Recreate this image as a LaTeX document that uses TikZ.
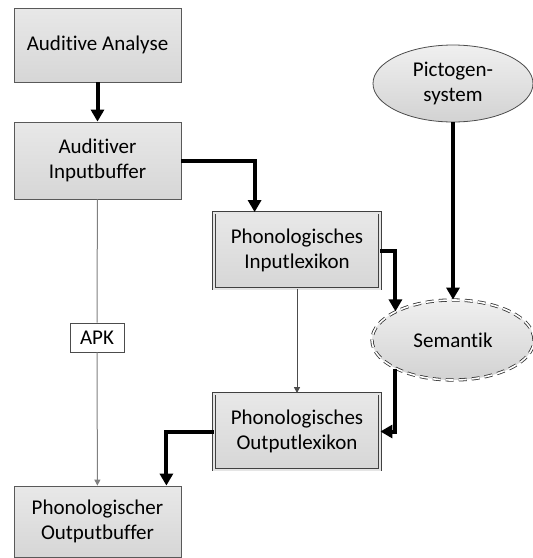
\documentclass[tikz,border=0pt]{standalone}
\usepackage{fontspec}
\setmainfont{Carlito}[Ligatures={NoCommon,NoContextual}]
\usetikzlibrary{shapes.geometric,arrows.meta,positioning}

\begin{document}
\begin{tikzpicture}[
      x=0.5pt, y=-0.5pt,
      box/.style={
          rectangle,
          draw=black!65,
          top color=gray!18,
          bottom color=gray!32,
          align=center,
          minimum width=83.5pt,
          font=\fontsize{10.5}{12.5}\selectfont
      },
      lexbox/.style={
          box,
          draw=black!75,
          double=white!80!gray,
          double distance=1pt,
          minimum width=83pt,
          minimum height=38pt
      },
      oval/.style={
          ellipse,
          top color=gray!12,
          bottom color=gray!35,
          align=center,
          inner sep=0pt,
          font=\fontsize{10.5}{12.5}\selectfont
      },
      bigarrow/.style={-{Triangle[width=6.5pt,length=6pt]}, line width=2pt, draw=black},
      thinarrow/.style={-{Triangle[width=3pt,length=3pt]}, line width=0.5pt, draw=black!70}
  ]
      \useasboundingbox (0,0) rectangle (533,558);

      % Nodes
      \node (analyse) [box, minimum height=37pt] at (97.5,45) {Auditive Analyse};
      \node (inbuf) [box, minimum height=38.5pt] at (97.5,160.5) {Auditiver\\Inputbuffer};
      \node (apk) [rectangle, draw=black!70, fill=white, minimum width=27pt, minimum height=14.5pt,
                   inner sep=1pt, font=\fontsize{10.5}{12.5}\selectfont] at (97,337.5) {APK};
      \node (outbuf) [box, minimum height=35.5pt] at (97.5,521.5) {Phonologischer\\Outputbuffer};
      \node (inlex) [lexbox] at (297,250.5) {Phonologisches\\Inputlexikon};
      \node (outlex) [lexbox] at (297,431.5) {Phonologisches\\Outputlexikon};
      \node (picto) [oval, draw=black!70, minimum width=80pt, minimum height=38.5pt] at (453,83.5) {Pictogen-\\system};
      \node (sem) [oval, draw=black!80, double=white, double distance=0.8pt,
                   dash pattern=on 4pt off 2.5pt, minimum width=81pt, minimum height=40pt] at (453,340) {Semantik};

      % Thick arrows
      \draw [bigarrow] (analyse) -- (inbuf);
      \draw [bigarrow] (inbuf.east) -| ([xshift=20.5pt]inlex.north west);
      \draw [bigarrow] (inlex.east) -| (sem.north west);
      \draw [bigarrow] (picto) -- (sem);
      \draw [bigarrow] (sem.south west) |- (outlex.east);
      \draw [bigarrow] (outlex.west) -| ([xshift=-7.5pt]outbuf.north east);

      % Thin connections
      \draw [line width=0.5pt, draw=black!50] (inbuf) -- (apk);
      \draw [thinarrow, draw=black!50] (apk) -- (outbuf);
      \draw [thinarrow] (inlex) -- (outlex);
  \end{tikzpicture}
\end{document}
